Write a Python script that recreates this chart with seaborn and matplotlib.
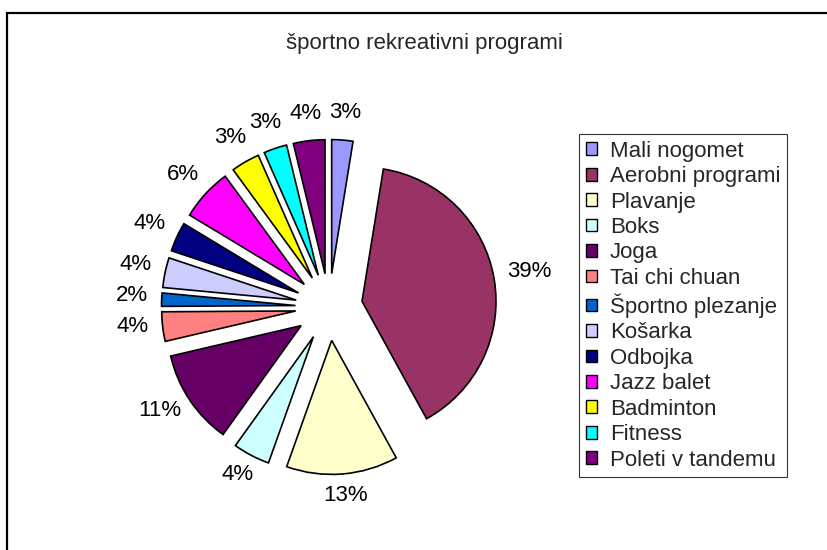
import numpy as np
import matplotlib
matplotlib.use("Agg")
import matplotlib.pyplot as plt
import seaborn as sns
from matplotlib.patches import Rectangle

# data (percent share; labels show these rounded)
programs = ["Mali nogomet", "Aerobni programi", "Plavanje", "Boks", "Joga",
            "Tai chi chuan", "Športno plezanje", "Košarka", "Odbojka",
            "Jazz balet", "Badminton", "Fitness", "Poleti v tandemu"]
shares = [2.55, 39.45, 13.45, 4.45, 11.45, 3.55, 1.6, 3.6, 3.55,
          6.3, 3.45, 2.8, 3.8]
slice_colors = ["#9999FF", "#993366", "#FFFFCC", "#CCFFFF", "#660066",
                "#FF8080", "#0066CC", "#CCCCFF", "#000080", "#FF00FF",
                "#FFFF00", "#00FFFF", "#800080"]
title = "športno rekreativni programi"

sns.set_theme(style="white")
plt.rcParams['font.family'] = ['Liberation Sans', 'DejaVu Sans']

W, H = 828, 550
fig = plt.figure(figsize=(W / 100, H / 100), dpi=100)
fig.patch.set_facecolor("white")

# outer chart frame (runs off the right and bottom edge like the original)
fig.patches.append(Rectangle((7 / W, -0.05), 1.0, 1 - 13 / H + 0.05,
                             transform=fig.transFigure, fill=False,
                             edgecolor="black", linewidth=1.6))

# pie axes: centre at (329, 307) px, radius 134 px
cx, cy, r = 329, 307, 134
half = 228
ax = fig.add_axes([(cx - half) / W, (H - cy - half) / H, 2 * half / W, 2 * half / H])
lim = half / r
explode = 0.25

palette = sns.color_palette(slice_colors)
wedges, _ = ax.pie(
    shares, colors=palette, startangle=90, counterclock=False,
    explode=[explode] * len(shares),
    wedgeprops=dict(edgecolor="black", linewidth=1.2))
ax.set_xlim(-lim, lim)
ax.set_ylim(-lim, lim)
ax.axis("off")

# percentage labels placed just outside each slice, Excel "outside end" style
renderer = fig.canvas.get_renderer()
total = sum(shares)
gap = 12 / r
lift = 3 / r
for w, s in zip(wedges, shares):
    th = np.deg2rad((w.theta1 + w.theta2) / 2)
    ux, uy = np.cos(th), np.sin(th)
    t = ax.text(0, 0, "%.0f%%" % (100 * s / total), ha="center", va="center",
                fontsize=16, color="black")
    bb = t.get_window_extent(renderer)
    hw, hh = (bb.width / 2 + 2) / r, (bb.height / 2 + 2) / r
    d = explode + 1 + gap
    t.set_position((d * ux + hw * ux, d * uy + hh * uy + lift))

fig.text(424 / W, 1 - 44 / H, title, ha="center", va="center", fontsize=16)

leg = fig.legend(wedges, programs, loc="upper left",
                 bbox_to_anchor=(579 / W, 1 - 134 / H), borderaxespad=0,
                 fontsize=16, frameon=True, fancybox=False,
                 handlelength=0.5, handleheight=0.5, handletextpad=0.6,
                 labelspacing=0.2, borderpad=0.3)
leg.get_frame().set_edgecolor("black")
leg.get_frame().set_linewidth(0.8)
for h in leg.legend_handles:
    h.set_linewidth(1.0)

fig.savefig("out.png", dpi=100)
